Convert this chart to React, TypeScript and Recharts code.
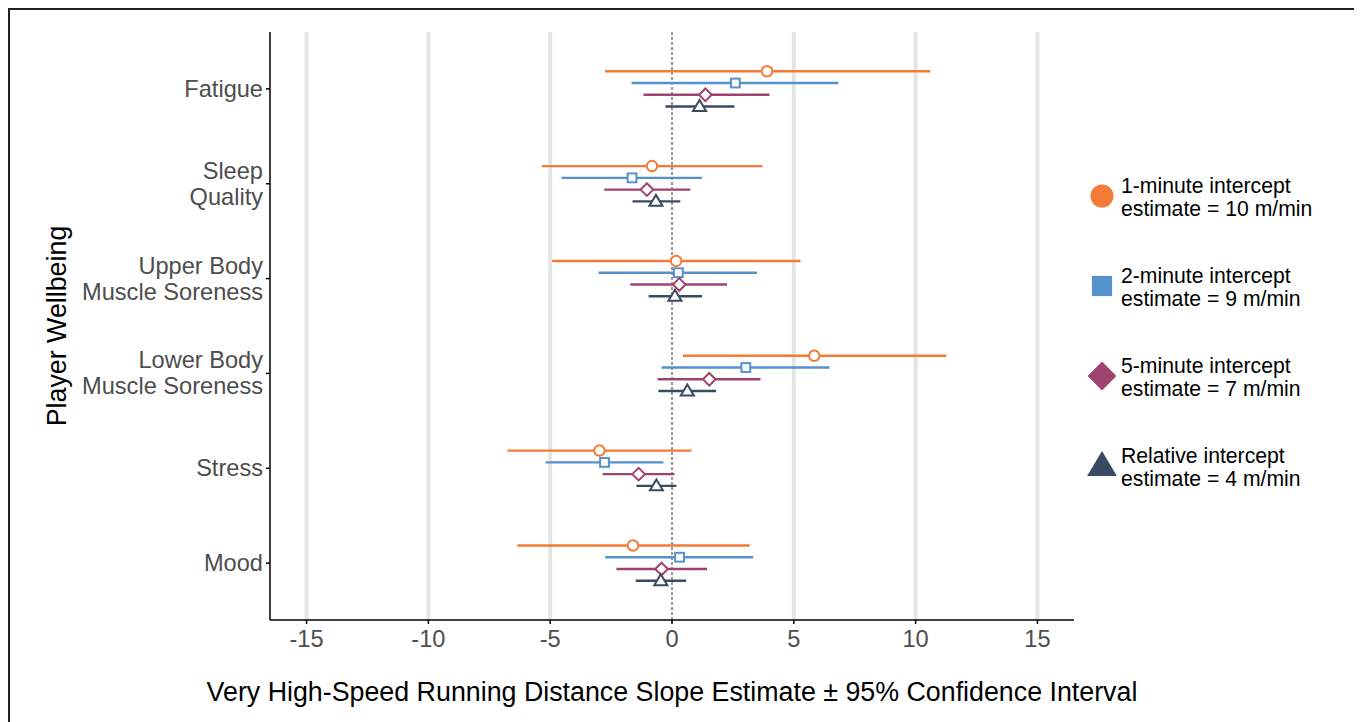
import { ComposedChart, Scatter, ErrorBar, XAxis, YAxis, CartesianGrid, ReferenceLine } from "recharts";

// wellbeing items, top to bottom
const categories = [
  "Fatigue",
  "Sleep\nQuality",
  "Upper Body\nMuscle Soreness",
  "Lower Body\nMuscle Soreness",
  "Stress",
  "Mood",
];

// slope estimate, lower / upper 95% CI
const est1 = [3.9, -0.82, 0.17, 5.84, -2.98, -1.6];
const lo1 = [-2.75, -5.35, -4.92, 0.45, -6.75, -6.35];
const hi1 = [10.6, 3.71, 5.27, 11.26, 0.8, 3.19];

const est2 = [2.6, -1.64, 0.26, 3.03, -2.77, 0.31];
const lo2 = [-1.66, -4.53, -3.02, -0.43, -5.19, -2.74];
const hi2 = [6.83, 1.23, 3.49, 6.47, -0.35, 3.33];

const est5 = [1.37, -1.03, 0.3, 1.53, -1.37, -0.43];
const lo5 = [-1.17, -2.78, -1.71, -0.59, -2.85, -2.28];
const hi5 = [4.0, 0.75, 2.26, 3.63, 0.1, 1.44];

const estR = [1.13, -0.66, 0.12, 0.63, -0.64, -0.46];
const loR = [-0.27, -1.62, -0.96, -0.56, -1.46, -1.49];
const hiR = [2.56, 0.34, 1.23, 1.81, 0.18, 0.58];

const xTicks = [-15, -10, -5, 0, 5, 10, 15];
const gridX = [-15, -10, -5, 5, 10, 15];

const ORANGE = "#f47a38";
const BLUE = "#5592cb";
const PURPLE = "#a0426f";
const NAVY = "#394b63";

const FONT = "Liberation Sans, Arial, sans-serif";

const series = [
  { name: "1-minute intercept", label: "estimate = 10 m/min", est: est1, lo: lo1, hi: hi1, color: ORANGE, shape: "circle", dodge: 0.186 },
  { name: "2-minute intercept", label: "estimate = 9 m/min", est: est2, lo: lo2, hi: hi2, color: BLUE, shape: "square", dodge: 0.062 },
  { name: "5-minute intercept", label: "estimate = 7 m/min", est: est5, lo: lo5, hi: hi5, color: PURPLE, shape: "diamond", dodge: -0.062 },
  { name: "Relative intercept", label: "estimate = 4 m/min", est: estR, lo: loR, hi: hiR, color: NAVY, shape: "triangle", dodge: -0.186 },
];

const yPos = (i: number) => categories.length - i;

function Marker({ shape, cx, cy, color, size, filled }: any) {
  const fill = filled ? color : "#fff";
  const sw = filled ? 0 : 2;
  if (shape === "circle") return <circle cx={cx} cy={cy} r={size / 2} fill={fill} stroke={color} strokeWidth={sw} />;
  if (shape === "square") {
    const h = size * 0.42;
    return <rect x={cx - h} y={cy - h} width={h * 2} height={h * 2} fill={fill} stroke={color} strokeWidth={sw} />;
  }
  if (shape === "diamond") {
    const h = size * 0.6;
    return <path d={`M${cx},${cy - h}L${cx + h},${cy}L${cx},${cy + h}L${cx - h},${cy}Z`} fill={fill} stroke={color} strokeWidth={sw} />;
  }
  const w = size * 0.62;
  const t = size * 0.62;
  const b = size * 0.42;
  return <path d={`M${cx},${cy - t}L${cx + w},${cy + b}L${cx - w},${cy + b}Z`} fill={fill} stroke={color} strokeWidth={sw} />;
}

function CatTick({ x, y, payload }: any) {
  const idx = categories.length - payload.value;
  const lines = (categories[idx] || "").split("\n");
  const lh = 26;
  const start = y - ((lines.length - 1) * lh) / 2;
  return (
    <text x={x} y={start} textAnchor="end" fill="#4d4d4d" fontSize={23.6} fontFamily={FONT}>
      {lines.map((l, i) => (
        <tspan key={i} x={x} y={start + i * lh} dominantBaseline="central">{l}</tspan>
      ))}
    </text>
  );
}

function YTitle({ viewBox }: any) {
  const cx = viewBox.x + 47;
  const cy = viewBox.y + viewBox.height / 2;
  return (
    <text x={cx} y={cy} transform={`rotate(-90, ${cx}, ${cy})`} textAnchor="middle" dominantBaseline="central"
          fill="#000" fontSize={26.8} fontFamily={FONT}>
      Player Wellbeing
    </text>
  );
}

function XTitle({ viewBox }: any) {
  const cx = viewBox.x + viewBox.width / 2;
  const cy = viewBox.y + 72;
  return (
    <text x={cx} y={cy} textAnchor="middle" dominantBaseline="central" fill="#000" fontSize={26.8} fontFamily={FONT}>
      Very High-Speed Running Distance Slope Estimate ± 95% Confidence Interval
    </text>
  );
}

export default function App() {
  return (
    <div style={{
      position: "relative", width: 1352, height: 720, boxSizing: "border-box",
      borderTop: "2px solid #222", borderLeft: "2px solid #222", borderRight: "2px solid #222",
      background: "#fff", fontFamily: FONT,
    }}>
      <ComposedChart width={1340} height={712} margin={{ top: 22, right: 276, left: 0, bottom: 42 }}>
        <CartesianGrid horizontal={false} verticalValues={gridX} stroke="#e4e4e4" strokeWidth={4} />
        <XAxis type="number" dataKey="x" domain={[-16.5, 16.5]} ticks={xTicks} allowDataOverflow
               height={60} tickSize={4} tickMargin={6} stroke="#000" strokeWidth={1.5}
               tick={{ fill: "#4d4d4d", fontSize: 23.6, fontFamily: FONT }}
               tickFormatter={(v) => String(v)} label={<XTitle />} />
        <YAxis type="number" dataKey="y" domain={[0.4, 6.6]} ticks={categories.map((_, i) => yPos(i))}
               allowDataOverflow width={260} tickSize={4} tickMargin={3} stroke="#000" strokeWidth={1.5}
               tick={<CatTick />} label={<YTitle />} />
        <ReferenceLine x={0} stroke="#333" strokeWidth={1} strokeDasharray="3 2" />
        {series.map((s) => {
          const data = s.est.map((e, i) => ({
            x: e,
            y: yPos(i) + s.dodge,
            err: [e - s.lo[i], s.hi[i] - e],
          }));
          return (
            <Scatter key={s.name} name={s.name} data={data} isAnimationActive={false}
                     shape={(p: any) => <Marker shape={s.shape} cx={p.cx} cy={p.cy} color={s.color} size={10.5} />}>
              <ErrorBar dataKey="err" direction="x" width={0} stroke={s.color} strokeWidth={2.4} isAnimationActive={false} />
            </Scatter>
          );
        })}
      </ComposedChart>
      <div style={{ position: "absolute", left: 1076, top: 164 }}>
        {series.map((s, i) => (
          <div key={s.name} style={{ position: "absolute", top: i * 90, left: 0, width: 270, height: 50 }}>
            <svg width={32} height={40} style={{ position: "absolute", left: 0, top: 2 }}>
              <Marker shape={s.shape} cx={16} cy={20} color={s.color} size={s.shape === "circle" ? 23 : 24} filled />
            </svg>
            <div style={{ position: "absolute", left: 35, top: 0, fontSize: 21.2, lineHeight: "23px", color: "#000", whiteSpace: "nowrap" }}>
              {s.name}<br />{s.label}
            </div>
          </div>
        ))}
      </div>
    </div>
  );
}
